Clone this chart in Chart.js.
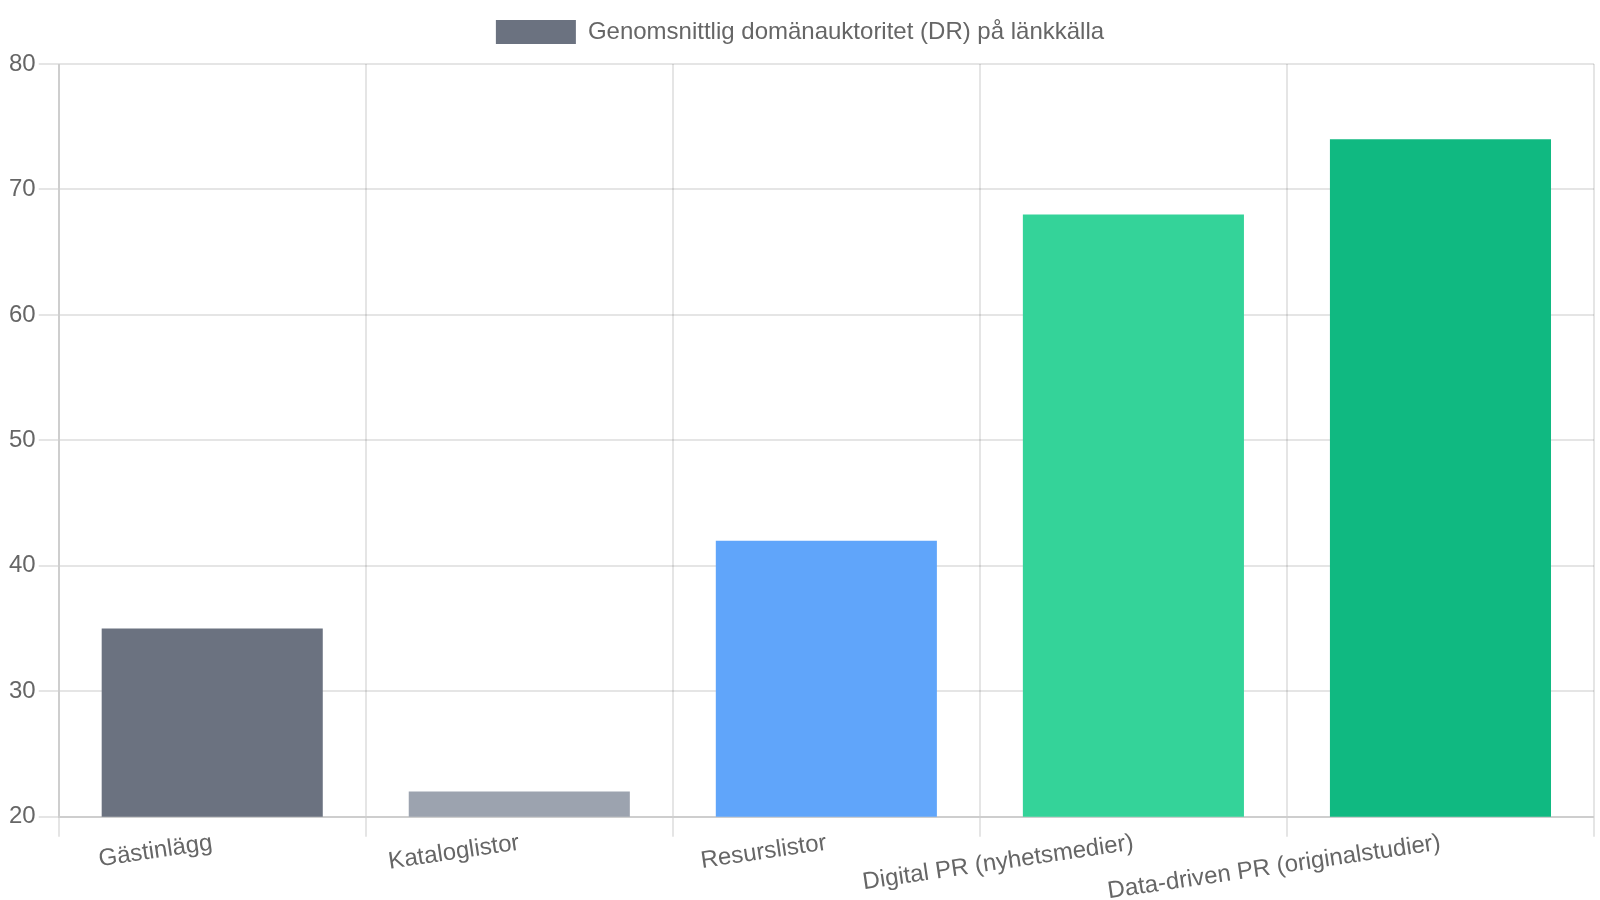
<!DOCTYPE html>
<html>
<head>
<meta charset="utf-8">
<script src="https://cdn.jsdelivr.net/npm/chart.js@4"></script>
<style>
  html, body { margin: 0; padding: 0; background: #fff; }
</style>
</head>
<body>
<canvas id="drChart" width="800" height="450"></canvas>
<script>
// ================== DATA ==================
const categories = [
    "Gästinlägg",
    "Kataloglistor",
    "Resurslistor",
    "Digital PR (nyhetsmedier)",
    "Data-driven PR (originalstudier)"
];
const drValues = [35, 22, 42, 68, 74];
const barColors = ["#6b7280", "#9ca3af", "#60a5fa", "#34d399", "#10b981"];
const seriesLabel = "Genomsnittlig domänauktoritet (DR) på länkkälla";

// ================== CHART ==================
Chart.defaults.font.family = "'Liberation Sans', Arial, sans-serif";

const canvas = document.getElementById("drChart");

new Chart(canvas, {
    type: "bar",
    data: {
        labels: categories,
        datasets: [{
            label: seriesLabel,
            data: drValues,
            backgroundColor: barColors
        }]
    },
    options: {
        responsive: false,
        devicePixelRatio: 2,
        animation: false,
        layout: { padding: { left: 3, right: 3, bottom: 1 } },
        scales: {
            x: {
                grid: { tickLength: 10 },
                ticks: { padding: -4 }
            },
            y: {
                min: 20,
                max: 80,
                grid: { tickLength: 10 },
                ticks: { stepSize: 10, padding: 1.5 }
            }
        }
    }
});

// the chart is laid out at 800x450 and drawn at 2x; show the bitmap at full size
canvas.style.width = "1600px";
canvas.style.height = "900px";
</script>
</body>
</html>
